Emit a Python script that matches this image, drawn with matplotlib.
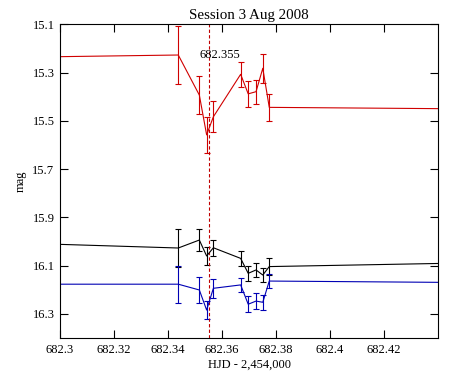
import matplotlib
matplotlib.use("Agg")
from matplotlib import pyplot as plt

# HJD - 2,454,000 (first and last points fall just outside the plotted range)
hjd = [682.28, 682.3438, 682.3516, 682.3543, 682.3568, 682.3669,
       682.3697, 682.3726, 682.3751, 682.3775, 682.46]

red_mag = [15.237, 15.227, 15.393, 15.558, 15.483, 15.307,
           15.388, 15.379, 15.282, 15.444, 15.451]
red_err = [0.05, 0.120, 0.079, 0.075, 0.064, 0.052,
           0.053, 0.050, 0.061, 0.057, 0.05]

black_mag = [16.005, 16.027, 15.994, 16.060, 16.026, 16.070,
             16.132, 16.118, 16.139, 16.104, 16.087]
black_err = [0.03, 0.079, 0.047, 0.037, 0.033, 0.031,
             0.031, 0.028, 0.028, 0.034, 0.03]

blue_mag = [16.177, 16.177, 16.201, 16.284, 16.194, 16.180,
            16.260, 16.247, 16.252, 16.164, 16.171]
blue_err = [0.03, 0.076, 0.055, 0.037, 0.040, 0.028,
            0.034, 0.032, 0.032, 0.028, 0.03]

minimum = 682.355
x_ticks = [682.3, 682.32, 682.34, 682.36, 682.38, 682.4, 682.42]
x_tick_labels = ["682.3", "682.32", "682.34", "682.36", "682.38", "682.4", "682.42"]
y_ticks = [15.1, 15.3, 15.5, 15.7, 15.9, 16.1, 16.3]

plt.rcParams['font.family'] = ['Liberation Serif', 'DejaVu Serif']
plt.rcParams['font.size'] = 9

fig = plt.figure(figsize=(4.71, 3.75), dpi=100)
ax = fig.add_axes([0.1274, 0.0987, 0.8026, 0.8363])

for mag, err, col in [(red_mag, red_err, '#d00000'),
                      (black_mag, black_err, 'black'),
                      (blue_mag, blue_err, '#0000b4')]:
    ax.errorbar(hjd, mag, yerr=err, color=col, lw=0.8, elinewidth=0.8,
                capsize=2.5, capthick=0.8)

ax.axvline(minimum, color='#c00000', lw=0.8, linestyle=(0, (3, 2)))
ax.text(682.3515, 15.227, "682.355", ha='left', va='center')

ax.set_xlim(682.3, 682.44)
ax.set_ylim(16.4, 15.1)
ax.set_xticks(x_ticks)
ax.set_xticklabels(x_tick_labels)
ax.set_yticks(y_ticks)
ax.tick_params(direction='in', top=True, right=True, length=6, width=0.8, pad=4)
for s in ax.spines.values():
    s.set_linewidth(0.8)

ax.set_title("Session 3 Aug 2008", pad=4)
ax.set_xlabel("HJD - 2,454,000", labelpad=2)
ax.set_ylabel("mag", labelpad=4)

fig.savefig("out.png", dpi=100)
